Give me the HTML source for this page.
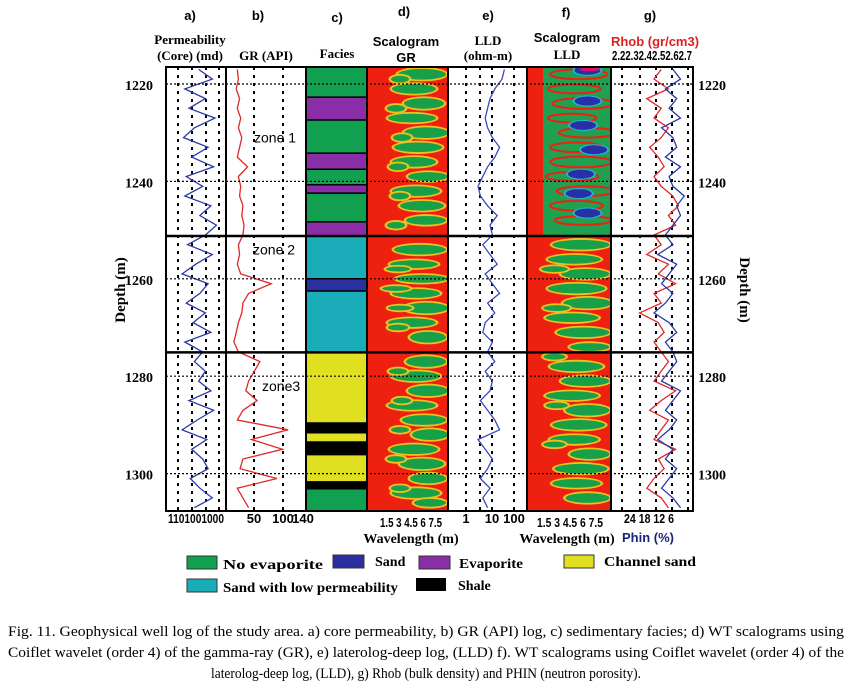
<!DOCTYPE html>
<html><head><meta charset="utf-8"><style>
body{margin:0;background:#fff;width:852px;height:688px;overflow:hidden}
svg{display:block}
.h{font-family:"Liberation Sans",sans-serif;font-weight:bold;font-size:13px;text-anchor:middle;fill:#000}
.t{font-family:"Liberation Serif",serif;font-weight:bold;fill:#000}
.cap{font-family:"Liberation Serif",serif;font-size:14.5px;fill:#000}
</style></head><body>
<svg id="fig" width="852" height="688" xmlns="http://www.w3.org/2000/svg">
<g id="marks"></g>
<g>
<text class="h" x="190" y="20">a)</text><text class="h" x="258" y="20">b)</text><text class="h" x="337" y="22">c)</text>
<text class="h" x="404" y="16">d)</text><text class="h" x="488" y="20">e)</text><text class="h" x="566" y="17">f)</text><text class="h" x="650" y="20">g)</text>
<text class="t" x="190" y="44" font-size="13" text-anchor="middle">Permeability</text>
<text class="t" x="190" y="60" font-size="13" text-anchor="middle">(Core) (md)</text>
<text class="t" x="266" y="60" font-size="13" text-anchor="middle">GR (API)</text>
<text class="t" x="337" y="58" font-size="13" text-anchor="middle">Facies</text>
<text class="h" x="406" y="46" font-size="14">Scalogram</text><text class="h" x="406" y="62" font-size="14">GR</text>
<text class="t" x="488" y="45" font-size="13" text-anchor="middle">LLD</text><text class="t" x="488" y="60" font-size="13" text-anchor="middle">(ohm-m)</text>
<text class="h" x="567" y="42" font-size="14">Scalogram</text><text class="t" x="567" y="59" font-size="13" text-anchor="middle">LLD</text>
<text class="h" x="655" y="46" font-size="12" style="fill:#e02020">Rhob (gr/cm3)</text>
<text class="h" x="652" y="60" font-size="10" textLength="80" lengthAdjust="spacingAndGlyphs">2.22.32.42.52.62.7</text>
</g>
<g>
<text class="h" x="196" y="523" font-size="10" textLength="56" lengthAdjust="spacingAndGlyphs">1101001000</text>
<text class="h" x="254" y="523" font-size="10">50</text><text class="h" x="283" y="523" font-size="10">100</text><text class="h" x="303" y="523" font-size="10">140</text>
<text class="h" x="411" y="527" font-size="12" textLength="62" lengthAdjust="spacingAndGlyphs">1.5 3 4.5 6 7.5</text>
<text class="h" x="466" y="523" font-size="10">1</text><text class="h" x="492" y="523" font-size="10">10</text><text class="h" x="514" y="523" font-size="10">100</text>
<text class="h" x="570" y="527" font-size="12" textLength="66" lengthAdjust="spacingAndGlyphs">1.5 3 4.5 6 7.5</text>
<text class="h" x="649" y="523" font-size="10" textLength="50" lengthAdjust="spacingAndGlyphs">24 18 12 6</text>
<text class="t" x="411" y="543" font-size="14" text-anchor="middle">Wavelength (m)</text>
<text class="t" x="567" y="543" font-size="14" text-anchor="middle">Wavelength (m)</text>
<text class="h" x="648" y="542" font-size="12" style="fill:#1a237e">Phin (%)</text>
</g>
<g>
<rect x="187" y="556" width="30" height="13" fill="#10a050" stroke="#333"/>
<text class="t" x="223" y="569" font-size="14" textLength="100" lengthAdjust="spacingAndGlyphs">No evaporite</text>
<rect x="333" y="555" width="31" height="13" fill="#2b2fa0" stroke="#333"/>
<text class="t" x="375" y="566" font-size="14">Sand</text>
<rect x="419" y="556" width="31" height="13" fill="#8a2ea8" stroke="#333"/>
<text class="t" x="459" y="568" font-size="14" textLength="64" lengthAdjust="spacingAndGlyphs">Evaporite</text>
<rect x="564" y="555" width="30" height="13" fill="#e0e020" stroke="#333"/>
<text class="t" x="604" y="566" font-size="14" textLength="92" lengthAdjust="spacingAndGlyphs">Channel sand</text>
<rect x="187" y="579" width="30" height="13" fill="#1aacb8" stroke="#333"/>
<text class="t" x="223" y="592" font-size="14" textLength="175" lengthAdjust="spacingAndGlyphs">Sand with low permeability</text>
<rect x="416" y="578" width="30" height="13" fill="#000"/>
<text class="t" x="458" y="590" font-size="14">Shale</text>
</g>
<g>
<text class="cap" x="8" y="636" textLength="836" lengthAdjust="spacingAndGlyphs">Fig. 11. Geophysical well log of the study area. a) core permeability, b) GR (API) log, c) sedimentary facies; d) WT scalograms using</text>
<text class="cap" x="8" y="657" textLength="836" lengthAdjust="spacingAndGlyphs">Coiflet wavelet (order 4) of the gamma-ray (GR), e)  laterolog-deep log, (LLD) f). WT scalograms using Coiflet wavelet (order 4) of the</text>
<text class="cap" x="211" y="678" textLength="430" lengthAdjust="spacingAndGlyphs">laterolog-deep log, (LLD), g) Rhob (bulk density) and PHIN (neutron porosity).</text>
</g>
</svg>
<script>
const depths=[];for(let d=1217;d<=1307;d+=2)depths.push(d);
const grVals=[20,22,18,24,20,26,22,28,24,20,38,22,26,24,30,28,32,30,22,24,20,26,80,40,30,28,22,18,14,22,60,50,40,35,55,30,20,110,45,100,30,25,90,20,30,40];
const permLog=[1.5,2.5,0.5,2.0,0.8,2.7,1.2,0.4,2.2,1.0,2.6,0.6,1.8,0.5,2.4,1.6,2.8,2.0,0.7,2.5,1.3,0.3,2.2,1.6,0.6,2.0,1.1,2.4,0.5,1.8,1.2,2.0,1.5,2.4,0.8,2.6,1.4,0.3,2.1,1.0,1.8,2.2,0.9,1.6,2.5,1.2];
const lldLog=[1.6,1.5,1.2,1.0,0.9,0.8,0.9,1.1,1.4,1.2,0.9,0.7,0.5,0.6,0.9,1.3,1.0,1.1,0.7,1.0,1.3,0.8,1.1,1.4,0.9,1.2,0.8,0.7,1.1,0.9,1.2,0.8,1.1,1.0,0.6,0.9,1.2,1.4,0.5,0.8,1.1,0.9,0.6,1.0,0.7,0.9];
const rhob=[2.5,2.45,2.55,2.4,2.5,2.45,2.55,2.5,2.42,2.48,2.52,2.45,2.5,2.58,2.62,2.55,2.6,2.45,2.5,2.4,2.55,2.48,2.6,2.45,2.5,2.35,2.48,2.52,2.45,2.5,2.55,2.5,2.45,2.6,2.5,2.42,2.55,2.5,2.45,2.6,2.48,2.52,2.45,2.4,2.5,2.55];
const phin=[10,8,12,9,11,8,13,10,9,12,8,11,10,7,9,8,10,12,10,14,9,11,13,10,12,15,11,9,12,10,9,11,13,8,10,12,9,11,14,10,12,9,11,13,10,8];
const faciesTop=[1216.5,1222.7,1227.4,1234.2,1237.5,1240.7,1242.4,1248.3,1251.2,1260,1262.5,1275.1,1289.6,1291.6,1293.5,1296.1,1301.7,1303.1];
const faciesType=['N','E','N','E','N','E','N','E','T','S','T','C','H','C','H','C','H','N'];
const faciesBot=1307.7;
const zoneDepths=[1251.2,1275.1];
const depthTicks=[1220,1240,1260,1280,1300];
const gBlobD=[1218,1221,1224,1227,1230,1233,1236,1239,1242,1245,1248,1254,1257,1260,1263,1266,1269,1272,1277,1280,1283,1286,1289,1292,1295,1298,1301,1304,1306,1219,1225,1231,1237,1243,1249,1258,1262,1266,1270,1279,1285,1291,1297,1303];
const gBlobW=[5.6,4.8,5.8,4.6,6.0,5.2,4.8,6.2,5.0,5.6,6.0,5.4,4.8,5.6,5.0,6.0,4.6,6.2,6.0,5.0,6.2,4.6,5.8,6.4,4.8,5.6,6.2,5.0,6.4,3.4,3.0,3.6,3.2,3.4,3.0,3.2,3.0,3.4,3.2,3.2,3.6,3.4,3.0,3.4];
const gBlobL=[2.4,2.2,2.0,2.4,2.2,2.4,2.2,2.0,2.4,2.2,2.0,2.6,2.4,2.6,2.4,2.2,2.4,1.8,2.0,2.4,2.0,2.4,2.2,1.8,2.4,2.2,1.8,2.4,1.6,0.9,0.9,0.9,0.9,0.9,0.9,1.2,1.4,1.2,1.0,0.9,0.9,0.9,0.9,0.9];
const gBlobH=[1.1,1.0,1.1,0.9,1.1,1.0,1.0,0.9,1.0,1.0,0.9,1.0,0.8,0.8,0.9,1.1,0.9,1.1,1.1,1.0,1.1,0.9,1.0,1.1,1.0,1.1,1.0,1.0,0.8,0.7,0.7,0.7,0.7,0.7,0.7,0.5,0.5,0.5,0.6,0.6,0.6,0.6,0.6,0.6];
const lBlobD=[1218,1221,1224,1227,1230,1233,1236,1239,1242,1245,1248];
const lBlobW=[5.2,4.8,5.6,4.6,6.0,5.0,5.4,4.6,5.8,5.0,5.6];
const lBlobL=[2.6,2.4,2.8,2.2,2.6,2.4,2.8,2.4,2.6,2.4,2.6];
const lBlobH=[1.0,0.9,1.1,0.9,1.0,1.0,1.1,0.9,1.0,1.0,0.9];
const l2BlobD=[1253,1256,1259,1262,1265,1268,1271,1274,1278,1281,1284,1287,1290,1293,1296,1299,1302,1305,1258,1266,1276,1286,1294];
const l2BlobW=[5.4,4.8,5.8,5.0,6.0,4.6,5.6,6.2,5.0,5.8,4.6,6.0,5.2,4.8,6.2,5.4,5.0,6.0,3.0,3.2,3.0,3.2,3.0];
const l2BlobL=[2.6,2.4,2.2,2.6,2.2,2.4,2.4,1.8,2.4,2.2,2.4,2.0,2.4,2.2,1.8,2.4,2.2,2.0,1.2,1.2,1.0,1.0,1.0];
const l2BlobH=[1.0,0.9,1.0,1.0,1.1,0.9,1.0,0.8,1.0,1.0,0.9,1.1,1.0,0.9,1.0,1.0,0.9,1.0,0.6,0.6,0.6,0.6,0.6];
const lBlueD=[1217.2,1223.5,1228.5,1233.5,1238.5,1242.5,1246.5];
const lBlueW=[6.0,6.0,5.6,6.6,5.4,5.2,6.0];

const NS="http://www.w3.org/2000/svg";
const root=document.getElementById('marks');
const TOP=67,BOT=511;
function y(d){return 84+(d-1220)*4.87;}
function xPerm(v){return 178+v*13.7;}
function xGR(v){return 226+v*0.565;}
function xLLD(v){return 466+v*24;}
function xRhob(v){return 618+(v-2.2)*144;}
function xPhin(v){return 620+(24-v)*3.78;}
function xG(w){return 381+(w-1.5)*10;}
function xL(w){return 538+(w-1.5)*11;}
function el(tag,attrs,parent){const e=document.createElementNS(NS,tag);for(const k in attrs)e.setAttribute(k,attrs[k]);(parent||root).appendChild(e);return e;}
const tracks=[[166,226],[226,306],[306,367],[367,448],[448,527],[527,611],[611,693]];
const trackNames=['permeability-track','gr-track','facies-track','scalogram-gr-track','lld-track','scalogram-lld-track','rhob-phin-track'];
const trackGroups=[];
tracks.forEach((t,i)=>{const g=el('g',{});


trackGroups.push(g);});
const clipD=el('clipPath',{id:'cd'});el('rect',{x:367,y:TOP,width:81,height:BOT-TOP},clipD);
const clipL=el('clipPath',{id:'cl'});el('rect',{x:527,y:TOP,width:84,height:BOT-TOP},clipL);
const gd=trackGroups[3];gd.setAttribute('clip-path','url(#cd)');
el('rect',{x:367,y:TOP,width:81,height:BOT-TOP,fill:'#ee2010'},gd);
gBlobD.forEach((d,i)=>{
 const cx=xG(gBlobW[i]),cy=y(d),rx=gBlobL[i]*10,ry=gBlobH[i]*4.87;
 const o=el('ellipse',{cx:cx,cy:cy,rx:rx+2.5,ry:ry+1.8,fill:'#f0c020'},gd);
 
 
 const e=el('ellipse',{cx:cx,cy:cy,rx:rx,ry:ry,fill:'#18a048'},gd);
 
 
});
const ld=trackGroups[5];ld.setAttribute('clip-path','url(#cl)');
el('rect',{x:527,y:TOP,width:84,height:BOT-TOP,fill:'#ee2010'},ld);
el('rect',{x:543,y:TOP,width:68,height:y(zoneDepths[0])-TOP,fill:'#20a050'},ld);
lBlobD.forEach((d,i)=>{
 const e=el('ellipse',{cx:xL(lBlobW[i]),cy:y(d),rx:lBlobL[i]*11,ry:lBlobH[i]*4.87,fill:'none',stroke:'#ee2010','stroke-width':2},ld);
 
 
});
l2BlobD.forEach((d,i)=>{
 const cx=xL(l2BlobW[i]),cy=y(d),rx=l2BlobL[i]*11,ry=l2BlobH[i]*4.87;
 const o=el('ellipse',{cx:cx,cy:cy,rx:rx+2.5,ry:ry+1.8,fill:'#f0c020'},ld);
 
 
 const e=el('ellipse',{cx:cx,cy:cy,rx:rx,ry:ry,fill:'#18a048'},ld);
 
 
});
lBlueD.forEach((d,i)=>{
 el('ellipse',{cx:xL(lBlueW[i]),cy:y(d),rx:15,ry:5.5,fill:'#20b8d8'},ld);
 const e=el('ellipse',{cx:xL(lBlueW[i]),cy:y(d),rx:13,ry:4.5,fill:'#2830a8'},ld);
 
 
});
el('ellipse',{cx:xL(6.2),cy:y(1217),rx:10,ry:2,fill:'#e01060'},ld);
const fc={N:'#10a050',E:'#8a2ea8',T:'#1aacb8',S:'#2b2fa0',C:'#e0e020',H:'#000'};
faciesTop.forEach((d,i)=>{
 const d2=i<faciesTop.length-1?faciesTop[i+1]:faciesBot;
 const r=el('rect',{x:306,y:y(d),width:61,height:y(d2)-y(d),fill:fc[faciesType[i]]},trackGroups[2]);
 
 
 el('line',{x1:306,x2:367,y1:y(d),y2:y(d),stroke:'#000','stroke-width':1.5},trackGroups[2]);
});
const vgrid=[[178,192,206,219],[254,283],[],[],[466,480,492,514],[],[622,640,656,672,688]];
vgrid.forEach((arr,i)=>arr.forEach(x=>el('line',{x1:x,x2:x,y1:TOP,y2:BOT,stroke:'#000','stroke-width':2,'stroke-dasharray':'3,5'},trackGroups[i])));
const hg=el('g',{});


depthTicks.forEach(d=>{
 el('line',{x1:166,x2:693,y1:y(d),y2:y(d),stroke:'#000','stroke-width':1.2,'stroke-dasharray':'2,2'},hg);
 const l=el('text',{x:153,y:y(d)+6,'text-anchor':'end','class':'t','font-size':14},hg);l.textContent=d;
 
 
 const r=el('text',{x:698,y:y(d)+6,'class':'t','font-size':14},hg);r.textContent=d;
 
 
});
function curve(vals,fx,color,g,name){
 const p=vals.map((v,i)=>(i?'L':'M')+fx(v).toFixed(1)+','+y(depths[i]).toFixed(1)).join('');
 const c=el('path',{d:p,fill:'none',stroke:color,'stroke-width':1.3},g);
 
 
}
curve(permLog,xPerm,'#2a3aa8',trackGroups[0],'permeability-curve');
curve(grVals,xGR,'#e02828',trackGroups[1],'gr-curve');
curve(lldLog,xLLD,'#3a4ab8',trackGroups[4],'lld-curve');
curve(rhob,xRhob,'#e02828',trackGroups[6],'rhob-curve');
curve(phin,xPhin,'#2a3aa8',trackGroups[6],'phin-curve');
const bg=el('g',{});


tracks.forEach((t,i)=>el('rect',{x:t[0],y:TOP,width:t[1]-t[0],height:BOT-TOP,fill:'none',stroke:'#000','stroke-width':2},bg));
zoneDepths.forEach(d=>{const z=el('line',{x1:166,x2:693,y1:y(d),y2:y(d),stroke:'#000','stroke-width':2.5});
 
 });
[['zone 1',1232,254],['zone 2',1255,253],['zone3',1283,262]].forEach(z=>{
 const t=el('text',{x:z[2],y:y(z[1]),'font-family':'Liberation Sans, sans-serif','font-size':14,fill:'#000'});t.textContent=z[0];
 
 
});
const a1=el('text',{x:0,y:0,'class':'t','font-size':15,'text-anchor':'middle',transform:'translate(125,290) rotate(-90)'});a1.textContent='Depth (m)';


const a2=el('text',{x:0,y:0,'class':'t','font-size':15,'text-anchor':'middle',transform:'translate(740,290) rotate(90)'});a2.textContent='Depth (m)';


</script>
</body></html>
